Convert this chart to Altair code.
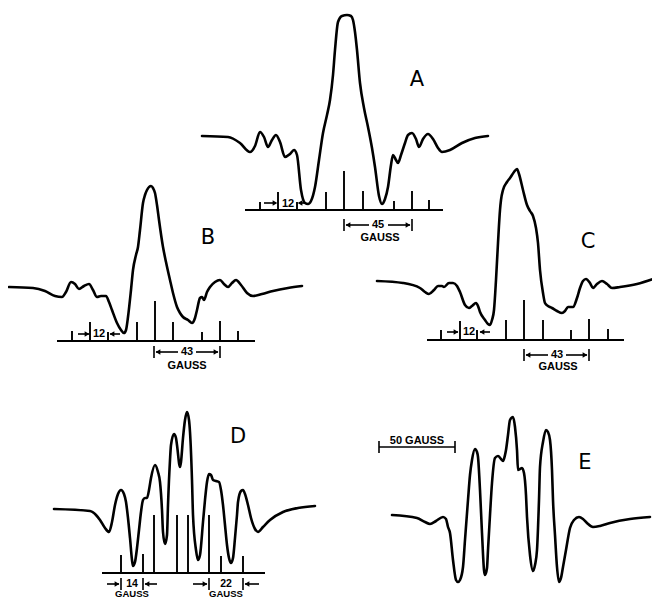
import altair as alt
import pandas as pd

# ---------------- spectra (x, y) ----------------
A_pts = [(202,136),(228,137),(240,143),(250,152),(255,146),(260,132),(264,137),(268,147),(272,140),(276,135),
         (280,142),(285,157),(290,154),(294,150),(297,155),(301,190),(305,203),(308,204),(311,201),(315,187),
         (319,160),(323,133),(327,115),(330,100),(333,75),(335,50),(338,22),(342,16),(347,15),(351,16),
         (353,20),(355,32),(357,50),(360,83),(364,108),(368,127),(372,148),(375,167),(379,196),(382,204),
         (385,199),(388,187),(391,165),(393,155),(396,160),(398,163),(401,155),(405,143),(408,135),(412,133),
         (416,139),(419,147),(423,139),(428,134),(433,139),(438,148),(442,152),(450,150),(462,143),(475,138),(488,136)]
B_pts = [(9,287),(33,288),(45,291),(55,296),(62,297),(66,292),(71,282),(75,284),(79,289),(84,286),(89,284),
         (93,290),(97,297),(101,296),(106,296),(109,302),(112,310),(117,323),(121,330),(124,333),(126,330),
         (128,317),(131,290),(133,270),(136,255),(138,247),(140,230),(143,203),(145,195),(147,190),(151,186),
         (153,188),(155,193),(157,205),(159,220),(163,247),(166,262),(170,280),(173,293),(177,307),(180,313),
         (183,317),(188,320),(192,323),(195,318),(197,310),(200,298),(202,297),(204,300),(207,292),(210,287),
         (215,282),(220,280),(224,284),(228,287),(232,283),(236,280),(241,285),(247,293),(253,296),(262,294),
         (273,291),(288,288),(302,286)]
C_pts = [(377,281),(403,283),(420,288),(425,292),(429,294),(434,290),(438,286),(442,286),(444,287),(449,283),
         (453,283),(457,286),(460,292),(465,305),(469,308),(472,306),(476,303),(478,306),(480,312),(485,320),
         (488,324),(490,325),(492,320),(494,310),(496,280),(498,243),(500,210),(501,200),(503,190),(507,182),
         (510,178),(514,172),(517,169),(519,174),(523,190),(527,205),(530,211),(533,216),(536,228),(538,243),
         (540,270),(543,293),(545,303),(548,306),(552,308),(557,311),(562,313),(565,311),(568,307),(573,307),
         (577,298),(580,288),(583,281),(586,279),(590,283),(593,288),(597,284),(602,281),(607,284),(612,288),
         (620,287),(637,284),(659,277)]
D_pts = [(54,509),(90,511),(96,515),(100,520),(105,528),(109,532),(112,522),(115,505),(118,494),(121,490),
         (124,494),(126,502),(128,518),(130,538),(132,560),(133,566),(135,562),(137,548),(139,530),(141,512),
         (143,500),(145,498),(147,498),(149,490),(151,478),(155,465),(158,472),(160,482),(162,510),(163,532),
         (165,544),(167,535),(168,505),(170,460),(171,445),(174,434),(176,438),(177,445),(180,467),(181,462),
         (183,438),(185,420),(187,412),(189,420),(190,432),(192,480),(193,515),(196,550),(198,560),(200,555),
         (203,522),(205,500),(207,482),(209,474),(211,475),(213,480),(216,481),(219,482),(221,490),(223,505),
         (225,525),(227,545),(229,558),(231,563),(233,558),(235,538),(237,515),(238,502),(241,491),(243,490),
         (245,494),(248,505),(251,518),(255,529),(258,532),(263,527),(270,520),(283,512),(298,508),(315,506)]
E_pts = [(392,515),(417,518),(425,522),(430,524),(436,521),(443,517),(446,519),(448,527),(450,533),(453,560),
         (456,580),(458,582),(460,580),(463,567),(465,540),(468,500),(470,475),(472,460),(475,449),(477,452),
         (478,457),(480,490),(482,533),(484,570),(485,575),(487,568),(488,550),(490,515),(492,483),(495,458),
         (498,456),(501,459),(503,461),(505,455),(506,450),(508,435),(510,420),(513,417),(515,427),(517,450),
         (518,470),(520,469),(522,468),(524,473),(526,495),(527,517),(530,555),(533,571),(535,565),(537,550),
         (539,500),(540,467),(543,442),(546,430),(548,432),(550,440),(552,470),(553,500),(555,535),(557,567),
         (559,582),(561,578),(563,567),(566,550),(570,528),(574,520),(579,517),(583,519),(587,523),(593,527),
         (600,526),(610,523),(630,519),(650,517)]

# ---------------- stick diagrams (x, top y), baseline y and extent ----------------
A_sticks = [(260,202),(278,192),(297,202),(326,192),(344,171),(363,191),(394,201),(412,191),(429,200)]
B_sticks = [(72,331),(90,322),(108,332),(137,322),(155,301),(173,322),(202,332),(220,321),(238,331)]
C_sticks = [(441,330),(460,321),(477,330),(506,320),(524,300),(543,320),(571,330),(589,319),(608,329)]
D_sticks = [(121,555),(143,554),(154,515),(177,515),(188,515),(209,515),(221,556),(243,556)]
baselines = {"A": (245, 443, 210), "B": (57, 255, 341), "C": (427, 624, 340), "D": (102, 265, 573)}

# ---------------- annotations ----------------
labels = [("A", 417, 80), ("B", 208, 238), ("C", 588, 242), ("D", 238, 437), ("E", 585, 463)]
notes = [("45", 378, 225), ("GAUSS", 380, 238), ("12", 288, 204),
         ("43", 187, 352), ("GAUSS", 187, 366), ("12", 99, 334),
         ("43", 557, 355), ("GAUSS", 558, 367), ("12", 469, 332),
         ("50 GAUSS", 417, 441)]
d_numbers = [("14", 132, 584), ("22", 226, 584)]
d_units = [("GAUSS", 132, 594), ("GAUSS", 226, 594)]
# dimension lines: (x1, x2, y)
dim_h = [(346, 369, 225), (388, 410, 225), (264, 276, 203), (299, 305, 203),
         (156, 178, 352), (196, 218, 352), (78, 89, 334), (110, 120, 334),
         (526, 548, 355), (566, 587, 355), (447, 458, 332), (480, 490, 332),
         (107, 119, 584), (145, 157, 584), (193, 207, 584), (245, 259, 584),
         (379, 455, 447)]
# end bars: (x, y1, y2)
dim_v = [(344, 219, 231), (412, 219, 231), (154, 346, 358), (220, 346, 358),
         (524, 349, 361), (589, 349, 361), (121, 578, 590), (143, 578, 590),
         (209, 578, 590), (243, 578, 590), (379, 441, 453), (455, 441, 453)]
heads_right = [(408, 225), (275, 203), (216, 352), (87, 334), (585, 355), (456, 332), (117, 584), (205, 584)]
heads_left = [(348, 225), (300, 203), (158, 352), (112, 334), (528, 355), (482, 332), (147, 584), (247, 584)]

# ---------------- tables ----------------
rows = []
for name, pts in [("A", A_pts), ("B", B_pts), ("C", C_pts), ("D", D_pts), ("E", E_pts)]:
    for i, (x, y) in enumerate(pts):
        rows.append({"s": name, "i": i, "x": x, "y": y})
curves = pd.DataFrame(rows)

stick_rows = []
for name, st in [("A", A_sticks), ("B", B_sticks), ("C", C_sticks), ("D", D_sticks)]:
    base = baselines[name][2]
    for x, top in st:
        stick_rows.append({"x": x, "y": top, "y2": base})
sticks = pd.DataFrame(stick_rows)
base_df = pd.DataFrame([{"x": a, "x2": b, "y": y} for a, b, y in baselines.values()])
lab_df = pd.DataFrame([{"t": t, "x": x, "y": y} for t, x, y in labels])
note_df = pd.DataFrame([{"t": t, "x": x, "y": y} for t, x, y in notes])
dnum_df = pd.DataFrame([{"t": t, "x": x, "y": y} for t, x, y in d_numbers])
dunit_df = pd.DataFrame([{"t": t, "x": x, "y": y} for t, x, y in d_units])
dh_df = pd.DataFrame([{"x": a, "x2": b, "y": y} for a, b, y in dim_h])
dv_df = pd.DataFrame([{"x": x, "y": a, "y2": b} for x, a, b in dim_v])
hr_df = pd.DataFrame([{"x": x, "y": y} for x, y in heads_right])
hl_df = pd.DataFrame([{"x": x, "y": y} for x, y in heads_left])

X = alt.X("x:Q", scale=alt.Scale(domain=[8, 652]), axis=None)
Y = alt.Y("y:Q", scale=alt.Scale(domain=[8, 599], reverse=True), axis=None)

curve_layer = alt.Chart(curves).mark_line(
    color="black", strokeWidth=2.6, interpolate="monotone", strokeJoin="round", strokeCap="round"
).encode(x=X, y=Y, detail="s:N", order="i:Q")

stick_layer = alt.Chart(sticks).mark_rule(color="black", strokeWidth=1.9).encode(x=X, y=Y, y2="y2:Q")
base_layer = alt.Chart(base_df).mark_rule(color="black", strokeWidth=1.9).encode(x=X, x2="x2:Q", y=Y)
dh_layer = alt.Chart(dh_df).mark_rule(color="black", strokeWidth=1.6).encode(x=X, x2="x2:Q", y=Y)
dv_layer = alt.Chart(dv_df).mark_rule(color="black", strokeWidth=1.6).encode(x=X, y=Y, y2="y2:Q")
hr_layer = alt.Chart(hr_df).mark_point(shape="triangle-right", filled=True, size=30, color="black", opacity=1).encode(x=X, y=Y)
hl_layer = alt.Chart(hl_df).mark_point(shape="triangle-left", filled=True, size=30, color="black", opacity=1).encode(x=X, y=Y)

lab_layer = alt.Chart(lab_df).mark_text(
    font="DejaVu Sans", fontSize=21, fontWeight=500, color="black", baseline="middle", align="center"
).encode(x=X, y=Y, text="t:N")
note_layer = alt.Chart(note_df).mark_text(
    font="Liberation Sans", fontSize=11, fontWeight="bold", color="black", baseline="middle", align="center"
).encode(x=X, y=Y, text="t:N")
dnum_layer = alt.Chart(dnum_df).mark_text(
    font="Liberation Sans", fontSize=10.5, fontWeight="bold", color="black", baseline="middle", align="center"
).encode(x=X, y=Y, text="t:N")
dunit_layer = alt.Chart(dunit_df).mark_text(
    font="Liberation Sans", fontSize=9.5, fontWeight="bold", color="black", baseline="middle", align="center"
).encode(x=X, y=Y, text="t:N")

chart = alt.layer(
    base_layer, stick_layer, dh_layer, dv_layer, hr_layer, hl_layer, curve_layer,
    lab_layer, note_layer, dnum_layer, dunit_layer
).properties(
    width=644, height=591, padding=0, autosize=alt.AutoSizeParams(type="none"), background="white"
).configure_view(stroke=None)

chart.save("out.html", embed_options={"renderer": "svg", "actions": False})
